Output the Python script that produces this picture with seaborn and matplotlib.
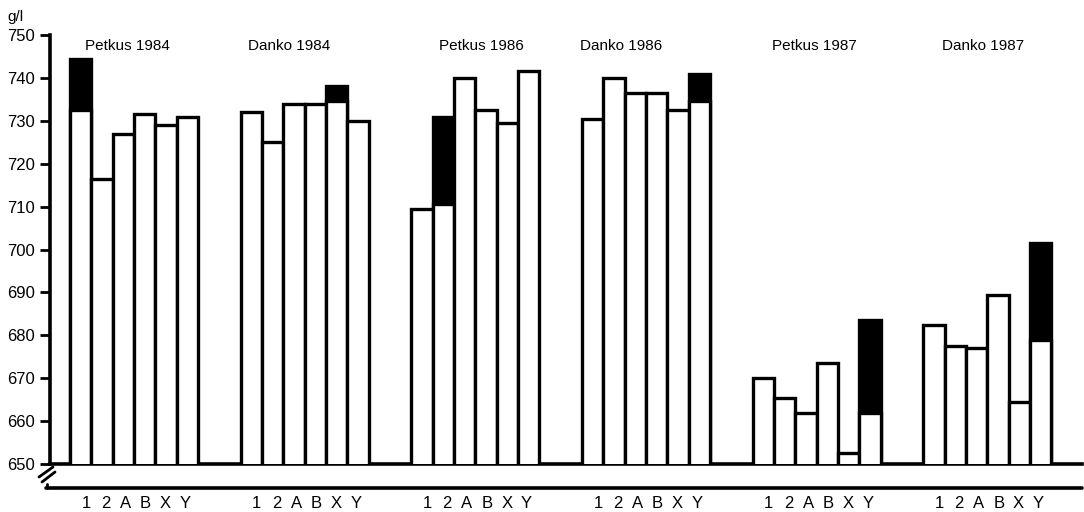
import numpy as np
import pandas as pd
import matplotlib
matplotlib.use("Agg")
import matplotlib.pyplot as plt
from matplotlib.lines import Line2D
import seaborn as sns

# ---- data (hectolitre weight, g/l) ----
groups = ["Petkus 1984", "Danko 1984", "Petkus 1986", "Danko 1986", "Petkus 1987", "Danko 1987"]
bar_labels = ["1", "2", "A", "B", "X", "Y"]

# height of the open (white) part of each bar
petkus_1984 = [732.5, 716.5, 727.0, 731.5, 729.0, 731.0]
danko_1984 = [732.0, 725.0, 734.0, 734.0, 734.5, 730.0]
petkus_1986 = [709.5, 710.5, 740.0, 732.5, 729.5, 741.5]
danko_1986 = [730.5, 740.0, 736.5, 736.5, 732.5, 734.5]
petkus_1987 = [670.0, 665.5, 662.0, 673.5, 652.5, 662.0]
danko_1987 = [682.5, 677.5, 677.0, 689.5, 664.5, 679.0]

# top of the filled (black) segment, where a bar has one
nan = np.nan
petkus_1984_top = [744.5, nan, nan, nan, nan, nan]
danko_1984_top = [nan, nan, nan, nan, 738.0, nan]
petkus_1986_top = [nan, 731.0, nan, nan, nan, nan]
danko_1986_top = [nan, nan, nan, nan, nan, 741.0]
petkus_1987_top = [nan, nan, nan, nan, nan, 683.5]
danko_1987_top = [nan, nan, nan, nan, nan, 701.5]

open_parts = [petkus_1984, danko_1984, petkus_1986, danko_1986, petkus_1987, danko_1987]
filled_tops = [petkus_1984_top, danko_1984_top, petkus_1986_top,
               danko_1986_top, petkus_1987_top, danko_1987_top]

# ---- layout ----
W, H = 1084, 512
SLOTS = 8                      # 6 bars + 2 empty slots per group
title_shift = [-0.3, -0.75, 0.3, -1.15, -0.1, -0.2]

rows = []
for g, name in enumerate(groups):
    for i, lab in enumerate(bar_labels):
        rows.append(dict(group=name, label=lab, pos=g * SLOTS + i + 0.5,
                         open=open_parts[g][i], top=filled_tops[g][i]))
df = pd.DataFrame(rows)
df["top"] = df["top"].fillna(0.0)

sns.set_theme(style="white")
plt.rcParams["font.family"] = ["Liberation Sans", "DejaVu Sans"]
for key in ("text.color", "axes.labelcolor", "xtick.color", "ytick.color", "axes.edgecolor"):
    plt.rcParams[key] = "black"

fig = plt.figure(figsize=(W / 100, H / 100), dpi=100)
ax = fig.add_axes([50 / W, 1 - 464 / H, 1032 / W, 429 / H])

LW = 2.4
sns.barplot(data=df, x="pos", y="top", native_scale=True, width=1.0,
            color="black", edgecolor="black", linewidth=LW, saturation=1,
            errorbar=None, ax=ax, zorder=2)
sns.barplot(data=df, x="pos", y="open", native_scale=True, width=1.0,
            color="white", edgecolor="black", linewidth=LW, saturation=1,
            errorbar=None, ax=ax, zorder=3)

xmin, xmax = -0.94, 47.44
ax.set_xlim(xmin, xmax)
ax.set_ylim(650, 750)
ax.set_xlabel("")
ax.set_ylabel("")
ax.set_xticks([])
ax.set_yticks(np.arange(650, 751, 10))
ax.tick_params(axis="y", direction="out", length=7, width=2, pad=4,
               labelsize=12, left=True)
for side in ("top", "right"):
    ax.spines[side].set_visible(False)
ax.spines["left"].set_linewidth(2.6)
ax.spines["bottom"].set_linewidth(2.6)

# group titles
for g, name in enumerate(groups):
    ax.text(g * SLOTS + 3 + title_shift[g], 747.4, name, ha="center",
            va="center", fontsize=11, zorder=5)

# unit label
fig.text(7 / W, 1 - 17 / H, "g/l", fontsize=11, va="center", ha="left")

# lower (broken-off) category axis
ax2 = fig.add_axes([50 / W, 1 - 489 / H, 1032 / W, 0.001])
ax2.set_xlim(xmin, xmax)
ax2.set_yticks([])
tick_pos, tick_txt = [], []
for g in range(len(groups)):
    for i, lab in enumerate(bar_labels):
        tick_pos.append(g * SLOTS + 0.25 + i * 0.93 + 0.5)
        tick_txt.append(lab)
ax2.set_xticks(tick_pos)
ax2.set_xticklabels(tick_txt)
ax2.tick_params(axis="x", length=0, pad=5, labelsize=12)
for s in ax2.spines.values():
    s.set_visible(False)

y_low = 1 - 488 / H
fig.add_artist(Line2D([46 / W, 1082 / W], [y_low, y_low], lw=2.6, color="black",
                      transform=fig.transFigure))
fig.add_artist(Line2D([47 / W, 47 / W], [y_low, 1 - 484 / H], lw=2, color="black",
                      transform=fig.transFigure))
# axis break strokes
fig.add_artist(Line2D([39 / W, 53 / W], [1 - 477 / H, 1 - 467 / H], lw=2,
                      color="black", transform=fig.transFigure))
fig.add_artist(Line2D([42 / W, 55 / W], [1 - 482 / H, 1 - 472 / H], lw=2,
                      color="black", transform=fig.transFigure))

fig.savefig("out.png", dpi=100)
